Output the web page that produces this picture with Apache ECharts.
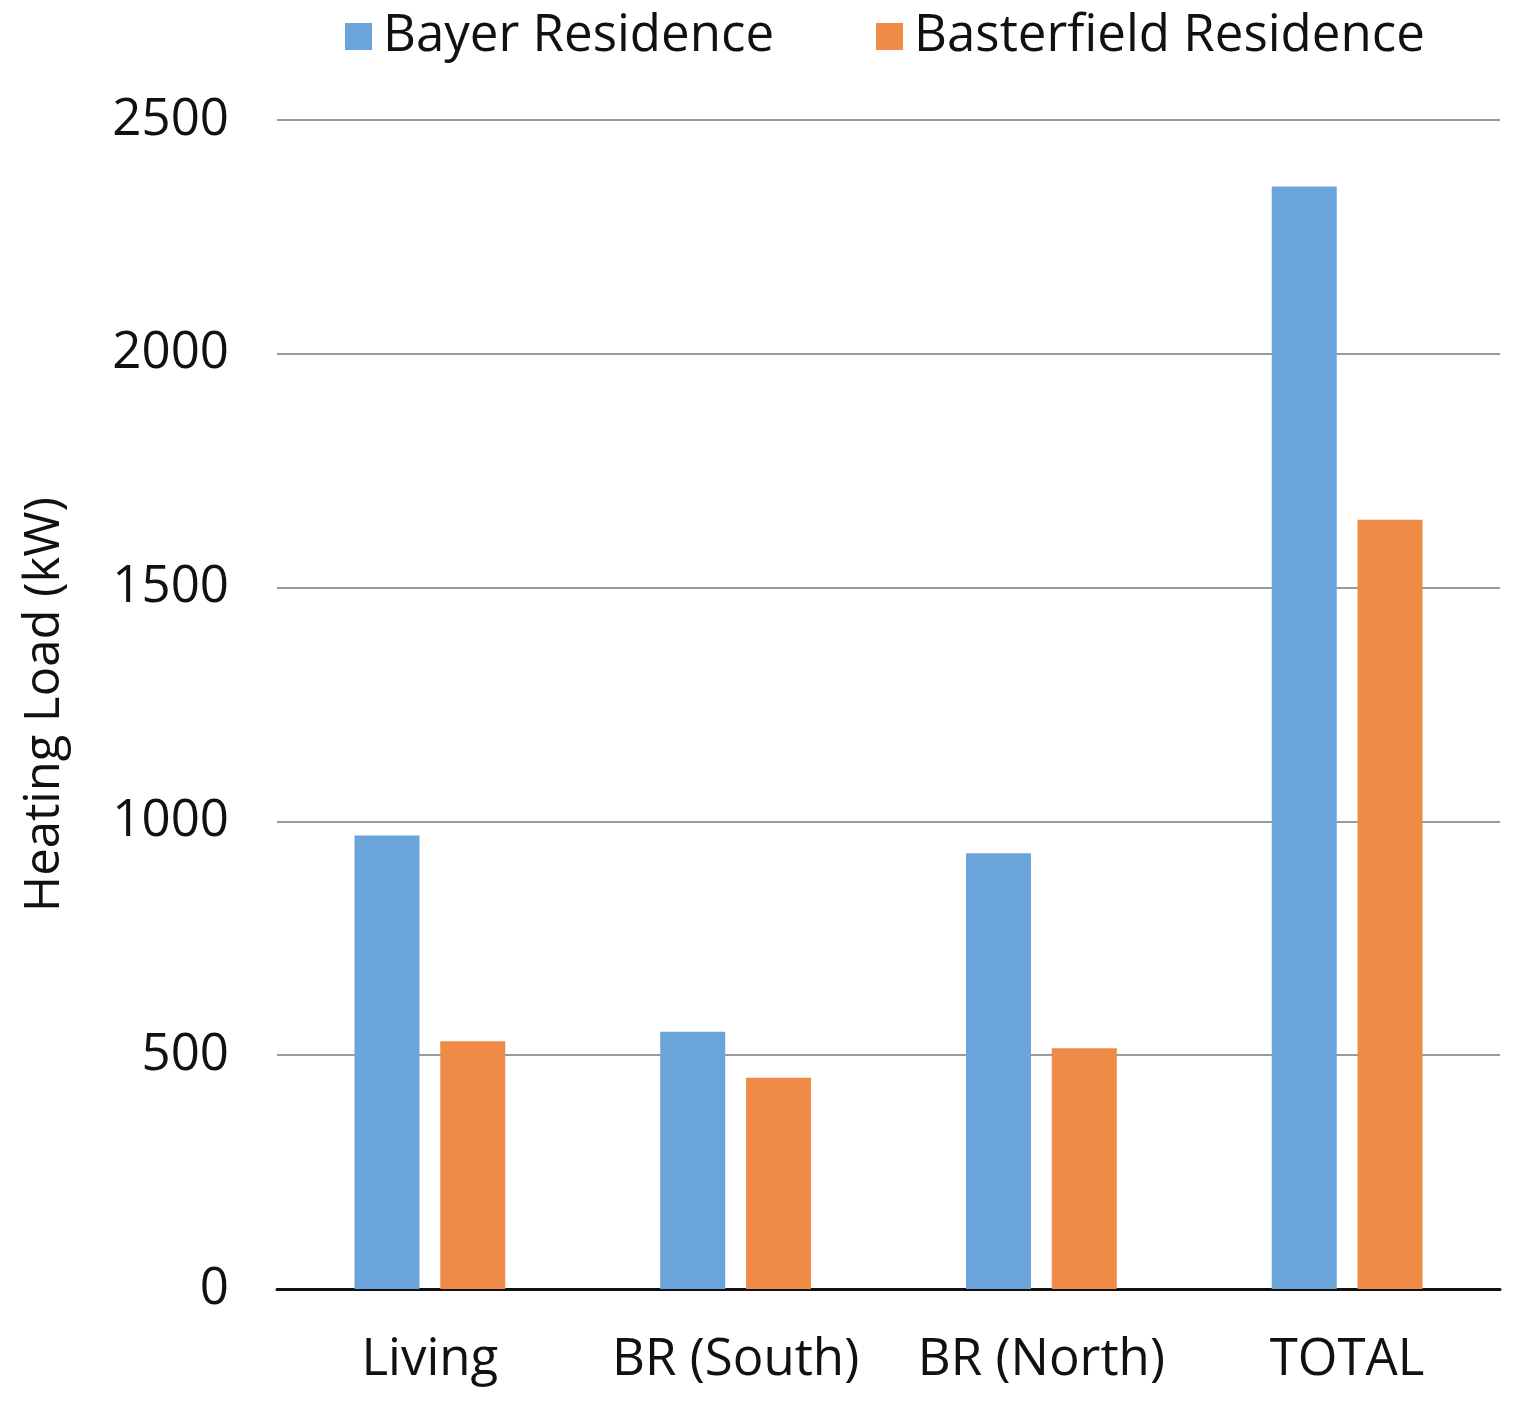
<!DOCTYPE html>
<html>
<head>
<meta charset="utf-8">
<script src="https://cdn.jsdelivr.net/npm/echarts@6/dist/echarts.min.js"></script>
<style>html,body{margin:0;padding:0;background:#fff;}#chart{width:1520px;height:1408px;}</style>
</head>
<body>
<div id="chart"></div>
<script>
const categories = ["Living", "BR (South)", "BR (North)", "TOTAL"];
const bayer = [970, 550, 932, 2358];
const basterfield = [530, 452, 515, 1645];
const seriesNames = ["Bayer Residence", "Basterfield Residence"];
const yMin = 0, yMax = 2500, yInterval = 500;

const FONT = "Open Sans";
const chart = echarts.init(document.getElementById('chart'), null, {renderer: 'canvas'});
chart.setOption({
  animation: false,
  backgroundColor: '#ffffff',
  color: ['#6aa4da', '#ef8a47'],
  legend: {
    top: 6,
    left: 340,
    itemWidth: 27,
    itemHeight: 27,
    itemGap: 102,
    icon: 'rect',
    textStyle: {fontFamily: FONT, fontSize: 51, color: '#111', padding: [0, 0, 0, 6]},
    data: seriesNames
  },
  grid: {left: 277, right: 20, top: 120, bottom: 119, containLabel: false, outerBoundsMode: 'none'},
  xAxis: {
    type: 'category',
    data: categories,
    axisLine: {lineStyle: {color: '#111', width: 3}},
    axisTick: {show: false},
    axisLabel: {fontFamily: FONT, fontSize: 51, color: '#111', margin: 46, interval: 0}
  },
  yAxis: {
    type: 'value',
    min: yMin, max: yMax, interval: yInterval,
    name: 'Heating Load (kW)',
    nameLocation: 'middle',
    nameGap: 207,
    nameTextStyle: {fontFamily: FONT, fontSize: 49, color: '#111'},
    axisLine: {show: false},
    axisTick: {show: false},
    splitLine: {lineStyle: {color: '#9a9a9a', width: 2}},
    axisLabel: {fontFamily: FONT, fontSize: 51, color: '#111', margin: 48, formatter: function (v) { return String(v); }}
  },
  series: [
    {name: seriesNames[0], type: 'bar', data: bayer, barWidth: 65, barGap: '32%'},
    {name: seriesNames[1], type: 'bar', data: basterfield, barWidth: 65, barGap: '32%'}
  ]
});
</script>
</body>
</html>
